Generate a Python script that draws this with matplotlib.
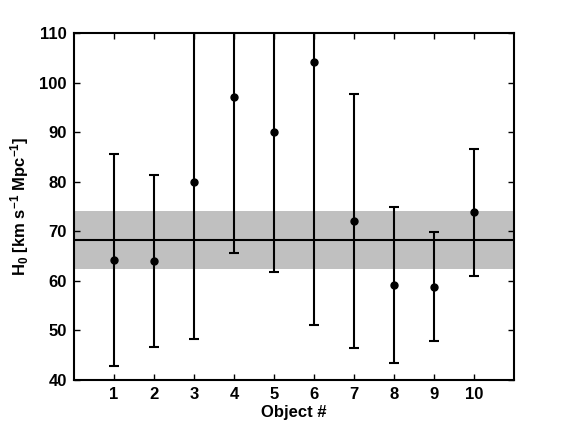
import matplotlib
matplotlib.use("Agg")
import matplotlib.pyplot as plt
import numpy as np

plt.rcParams['font.family'] = ['Liberation Sans', 'DejaVu Sans']
plt.rcParams['font.weight'] = 'bold'
plt.rcParams['mathtext.fontset'] = 'custom'
plt.rcParams['mathtext.rm'] = 'Liberation Sans:bold'
plt.rcParams['mathtext.bf'] = 'Liberation Sans:bold'
plt.rcParams['mathtext.default'] = 'bf'

objects = [1, 2, 3, 4, 5, 6, 7, 8, 9, 10]
h0 = [64.2, 64.0, 80.0, 97.0, 90.0, 104.2, 72.0, 59.1, 58.8, 73.8]
h0_upper = [85.5, 81.3, 130.0, 140.0, 135.0, 150.0, 97.6, 74.9, 69.9, 86.6]
h0_lower = [42.9, 46.7, 48.3, 65.7, 61.7, 51.2, 46.4, 43.4, 47.8, 61.0]
h0_mean = 68.2
band_lo = 62.4
band_hi = 74.1

h0 = np.array(h0)
yerr = [h0 - np.array(h0_lower), np.array(h0_upper) - h0]

fig = plt.figure(figsize=(5.68, 4.28), dpi=100)
ax = fig.add_axes([0.130, 0.112, 0.775, 0.811])

ax.axhspan(band_lo, band_hi, color='#c0c0c0', lw=0, zorder=1)
ax.axhline(h0_mean, color='black', lw=1.5, zorder=2)
ax.errorbar(objects, h0, yerr=yerr, fmt='o', color='black', ms=5,
            elinewidth=1.5, capsize=3.5, capthick=1.5, zorder=3)

ax.set_xlim(0, 11)
ax.set_ylim(40, 110)
ax.set_xticks(objects)
ax.set_yticks(range(40, 111, 10))
ax.tick_params(direction='in', top=True, right=True, labelsize=12, length=4, width=1, pad=5)
for s in ax.spines.values():
    s.set_linewidth(1.5)

ax.set_xlabel('Object #', fontsize=12, fontweight='bold', labelpad=2)
ax.set_ylabel(r'H$_0$ [km s$^{-1}$ Mpc$^{-1}$]', fontsize=12, fontweight='bold', labelpad=6)

fig.savefig('out.png', dpi=100)
